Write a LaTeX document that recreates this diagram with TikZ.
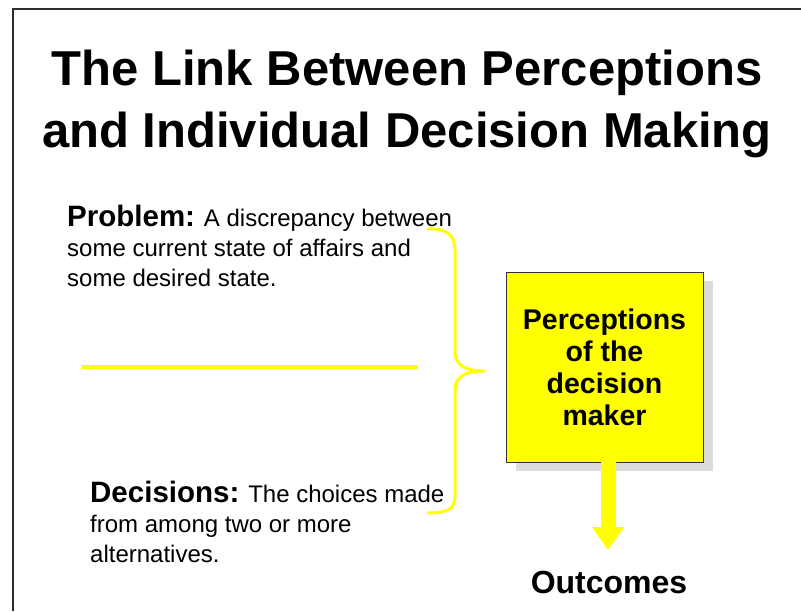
\documentclass[tikz,border=0pt]{standalone}
\usepackage{fontspec}
\setmainfont{Liberation Sans}
\usetikzlibrary{arrows.meta,shadows}
\definecolor{yel}{RGB}{255,255,0}
\definecolor{framec}{RGB}{45,45,45}
\definecolor{shade}{RGB}{220,220,220}
\tikzset{
  titletext/.style={font=\bfseries\fontsize{49}{62}\selectfont, align=center, inner sep=0pt},
  deftext/.style={font=\fontsize{24}{30}\selectfont, align=left, inner sep=0pt},
  pbox/.style={draw=black!80, line width=0.8pt, fill=yel, minimum width=197pt, minimum height=190pt,
    align=center, inner sep=0pt, font=\bfseries\fontsize{28.5}{32}\selectfont,
    drop shadow={shadow xshift=10pt, shadow yshift=-9pt, fill=shade, opacity=1}},
  outtext/.style={font=\bfseries\fontsize{32}{36}\selectfont, inner sep=0pt},
  yline/.style={draw=yel, line width=4pt},
  bracel/.style={draw=yel, line width=3pt},
  bigarrow/.style={draw=yel, line width=15pt, -{Triangle[width=31pt,length=23pt]}, yel}
}
\newcommand{\lbl}[1]{{\bfseries\fontsize{29.5}{30}\selectfont #1}}
\begin{document}
\begin{tikzpicture}[x=1pt,y=-1pt]
\useasboundingbox (0,0) rectangle (801,611);
\fill[white] (0,0) rectangle (801,611);
\draw[framec, line width=2pt] (13,611) -- (13,9) -- (801,9);

\node[titletext, anchor=base] (title) at (407,147) {The Link Between Perceptions\\and Individual Decision Making};

\node[deftext, anchor=base west] (problem) at (67,286) {\lbl{Problem:} A discrepancy between\\some current state of affairs and\\some desired state.};

\node[deftext, anchor=base west] (decisions) at (90,562) {\lbl{Decisions:} The choices made\\from among two or more\\alternatives.};

\coordinate (lineA) at (82,367);
\coordinate (lineB) at (418,367);
\draw[yline] (lineA) -- (lineB);

\coordinate (brTop) at (427,229);
\coordinate (brTip) at (485,371);
\coordinate (brBot) at (427,513);
\draw[bracel] (brTop) .. controls (448,228) and (455,236) .. (455,250) -- (455,352)
  .. controls (455,365) and (465,371) .. (brTip)
  .. controls (465,371) and (455,377) .. (455,390) -- (455,496)
  .. controls (455,509) and (448,513) .. (brBot);

\node[pbox] (box) at (604.5,367) {Perceptions\\of the\\decision\\maker};

\coordinate (tip) at (608,550);
\draw[bigarrow] (box.south -| tip) -- (tip);

\node[outtext, anchor=base] (out) at (609,593) {Outcomes};
\end{tikzpicture}
\end{document}
